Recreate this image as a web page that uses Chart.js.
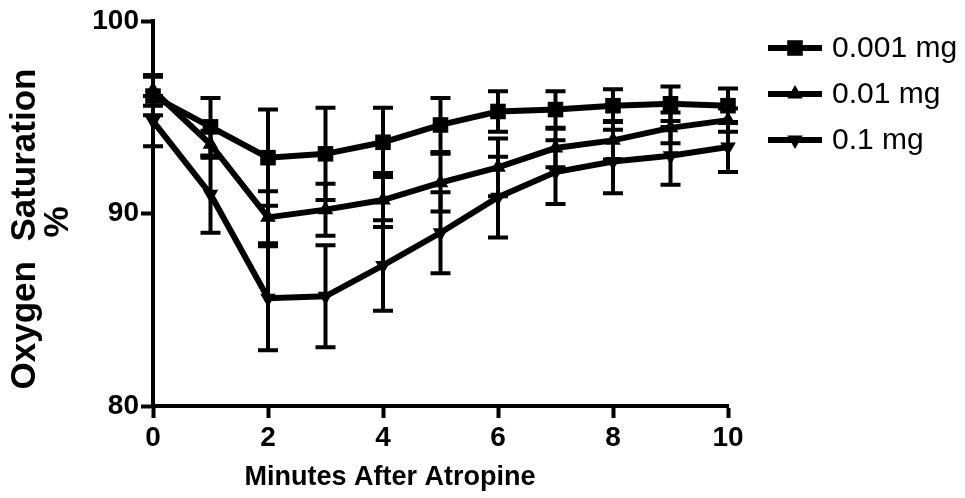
<!DOCTYPE html>
<html>
<head>
<meta charset="utf-8">
<script src="https://cdn.jsdelivr.net/npm/chart.js@4.4.0/dist/chart.umd.min.js"></script>
<style>
  html, body { margin: 0; padding: 0; background: #fff; }
</style>
</head>
<body>
<canvas id="o2Chart" width="965" height="498"></canvas>
<script>
// minutes after atropine (x axis)
var minutes = [0, 1, 2, 3, 4, 5, 6, 7, 8, 9, 10];

// mean oxygen saturation % and error (+/-) for each dose
var dose0001 = [96.1, 94.5, 92.9, 93.1, 93.7, 94.6, 95.3, 95.4, 95.6, 95.7, 95.6];
var dose0001Err = [1.0, 1.5, 2.5, 2.4, 1.8, 1.4, 1.05, 0.95, 0.85, 0.9, 0.9];

var dose001 = [96.4, 93.6, 89.8, 90.2, 90.7, 91.6, 92.4, 93.4, 93.8, 94.45, 94.85];
var dose001Err = [0.8, 0.7, 1.35, 1.35, 1.4, 1.5, 1.5, 1.0, 1.0, 0.8, 0.6];

var dose01 = [94.8, 91.0, 85.6, 85.7, 87.3, 89.0, 90.85, 92.15, 92.7, 93.0, 93.45];
var dose01Err = [1.3, 2.0, 2.7, 2.65, 2.35, 2.1, 2.1, 1.65, 1.65, 1.5, 1.3];

var doseLabels = ["0.001 mg", "0.01 mg", "0.1 mg"];
var yTicks = [80, 90, 100];
var xTicks = [0, 2, 4, 6, 8, 10];

var FONT = "'Liberation Sans', Arial, sans-serif";

function points(values) {
  var out = [];
  for (var i = 0; i < values.length; i++) {
    out.push({ x: minutes[i], y: values[i] });
  }
  return out;
}

// draws the vertical error bars with caps, behind the lines
var errorBars = {
  id: 'errorBars',
  beforeDatasetsDraw: function(chart) {
    var ctx = chart.ctx;
    var xs = chart.scales.x, ys = chart.scales.y;
    ctx.save();
    ctx.strokeStyle = '#000';
    ctx.lineWidth = 4;
    chart.data.datasets.forEach(function(ds) {
      ds.data.forEach(function(p, i) {
        var x = xs.getPixelForValue(p.x);
        var top = ys.getPixelForValue(p.y + ds.errors[i]);
        var bot = ys.getPixelForValue(p.y - ds.errors[i]);
        ctx.beginPath();
        ctx.moveTo(x, top); ctx.lineTo(x, bot);
        ctx.moveTo(x - 10, top); ctx.lineTo(x + 10, top);
        ctx.moveTo(x - 10, bot); ctx.lineTo(x + 10, bot);
        ctx.stroke();
      });
    });
    ctx.restore();
  }
};

// legend on the right plus the two axis titles (placed like the original)
var extras = {
  id: 'extras',
  afterDraw: function(chart) {
    var ctx = chart.ctx;
    ctx.save();
    chart.data.datasets.forEach(function(ds, i) {
      var y = 48 + i * 46;
      ctx.strokeStyle = '#000';
      ctx.lineWidth = 6;
      ctx.beginPath();
      ctx.moveTo(768, y); ctx.lineTo(822, y);
      ctx.stroke();
      ctx.fillStyle = '#000';
      Chart.helpers.drawPoint(ctx, {
        pointStyle: ds.pointStyle,
        rotation: ds.pointRotation || 0,
        radius: ds.pointRadius,
        borderWidth: 0
      }, 795, y);
      ctx.fillStyle = '#000';
      ctx.font = '30px ' + FONT;
      ctx.textBaseline = 'middle';
      ctx.textAlign = 'left';
      ctx.fillText(ds.label, 832, y + 1);
    });
    ctx.fillStyle = '#000';
    ctx.textAlign = 'center';
    ctx.textBaseline = 'middle';
    ctx.font = 'bold 27px ' + FONT;
    ctx.fillText('Minutes After Atropine', 390, 478);

    ctx.translate(0, 229);
    ctx.rotate(-Math.PI / 2);
    ctx.font = 'bold 35px ' + FONT;
    ctx.fillText('Oxygen  Saturation', 0, 25);
    ctx.fillText('%', 7, 58);
    ctx.restore();
  }
};

function series(label, values, errors, style, rot, r) {
  return {
    label: label,
    data: points(values),
    errors: errors,
    borderColor: '#000',
    backgroundColor: '#000',
    borderWidth: 6,
    pointStyle: style,
    pointRotation: rot,
    pointRadius: r,
    pointBorderWidth: 0,
    pointBackgroundColor: '#000',
    tension: 0,
    clip: false
  };
}

var ctx = document.getElementById('o2Chart').getContext('2d');
var chart = new Chart(ctx, {
  type: 'line',
  data: {
    datasets: [
      series(doseLabels[0], dose0001, dose0001Err, 'rect', 0, 11),
      series(doseLabels[1], dose001, dose001Err, 'triangle', 0, 9),
      series(doseLabels[2], dose01, dose01Err, 'triangle', 180, 9)
    ]
  },
  options: {
    responsive: false,
    animation: false,
    layout: { padding: { top: 21, right: 237, bottom: 0, left: 0 } },
    plugins: { legend: { display: false }, tooltip: { enabled: false } },
    scales: {
      x: {
        type: 'linear',
        min: 0, max: 10,
        afterBuildTicks: function(scale) {
          scale.ticks = xTicks.map(function(v) { return { value: v }; });
        },
        afterFit: function(scale) { scale.height = 92; },
        border: { display: true, color: '#000', width: 4 },
        grid: { drawOnChartArea: false, drawTicks: true, tickLength: 12, tickWidth: 4, color: '#000' },
        ticks: { color: '#000', padding: 3, maxRotation: 0, font: { family: FONT, size: 28, weight: 'bold' } }
      },
      y: {
        min: 80, max: 100,
        afterBuildTicks: function(scale) {
          scale.ticks = yTicks.map(function(v) { return { value: v }; });
        },
        afterFit: function(scale) { scale.width = 153; },
        border: { display: true, color: '#000', width: 4 },
        grid: { drawOnChartArea: false, drawTicks: true, tickLength: 12, tickWidth: 4, color: '#000' },
        ticks: { color: '#000', padding: 2, font: { family: FONT, size: 28, weight: 'bold' } }
      }
    }
  },
  plugins: [errorBars, extras]
});
</script>
</body>
</html>
